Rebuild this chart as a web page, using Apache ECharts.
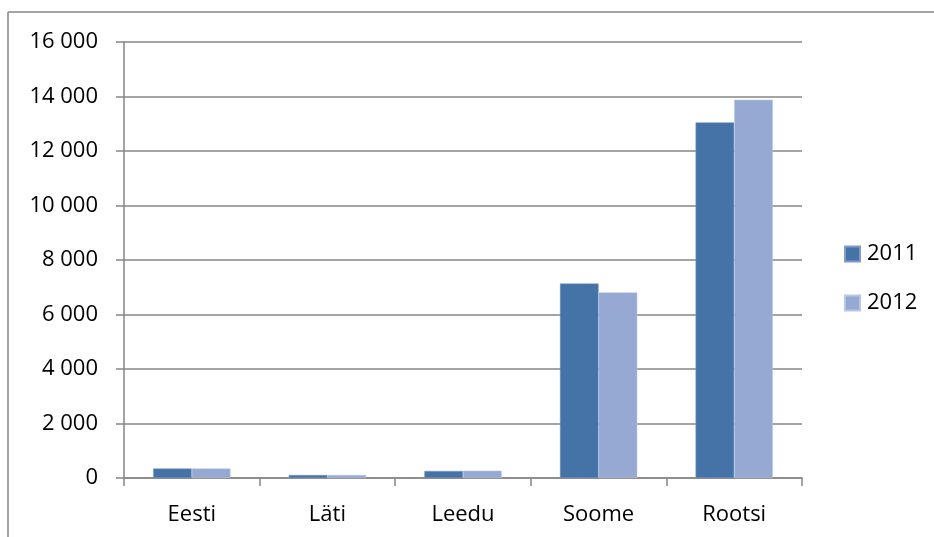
<!DOCTYPE html>
<html><head><meta charset="utf-8">
<script src="https://cdn.jsdelivr.net/npm/echarts@6/dist/echarts.min.js"></script>
<style>html,body{margin:0;padding:0;background:#fff}#c{width:934px;height:537px}</style>
</head><body><div id="c"></div>
<script>
const categories = ['Eesti', 'Läti', 'Leedu', 'Soome', 'Rootsi'];
const seriesNames = ['2011', '2012'];
const values2011 = [350, 110, 260, 7140, 13050];
const values2012 = [350, 110, 270, 6810, 13880];

const fmt = v => String(v).replace(/\B(?=(\d{3})+(?!\d))/g, ' ');
const font = 'Open Sans, Noto Sans, sans-serif';
const chart = echarts.init(document.getElementById('c'));
chart.setOption({
  animation: false,
  graphic: [
    {type: 'line', shape: {x1: 8, y1: 12, x2: 934, y2: 12}, style: {stroke: '#868686', lineWidth: 1.5}},
    {type: 'line', shape: {x1: 8, y1: 12, x2: 8, y2: 537}, style: {stroke: '#868686', lineWidth: 1.5}}
  ],
  grid: {left: 124, right: 132, top: 42, bottom: 59},
  legend: {
    orient: 'vertical', left: 844, top: 243, padding: 0, itemWidth: 15, itemHeight: 15, itemGap: 27,
    icon: 'rect',
    textStyle: {fontSize: 22, fontFamily: font, color: '#000', padding: [0,0,0,2]},
    data: seriesNames
  },
  xAxis: {
    type: 'category', data: categories,
    axisLine: {lineStyle: {color: '#868686', width: 1.5}},
    axisTick: {show: true, length: 8, lineStyle: {color: '#868686', width: 1.5}},
    axisLabel: {fontSize: 22, fontFamily: font, color: '#000', margin: 26}
  },
  yAxis: {
    type: 'value', min: 0, max: 16000, interval: 2000,
    axisLine: {show: true, lineStyle: {color: '#868686', width: 1.5}},
    axisTick: {show: true, inside: false, length: 8, lineStyle: {color: '#868686', width: 1.5}},
    splitLine: {lineStyle: {color: '#868686', width: 1.5}},
    axisLabel: {fontSize: 22, fontFamily: font, color: '#000', margin: 26, formatter: fmt}
  },
  series: [
    {name: seriesNames[0], type: 'bar', data: values2011, barGap: '0%', barCategoryGap: '43%',
     itemStyle: {color: '#4572A7', borderColor: '#7f9cc6', borderWidth: 0.5}},
    {name: seriesNames[1], type: 'bar', data: values2012,
     itemStyle: {color: '#95A9D3', borderColor: '#b8c8e4', borderWidth: 0.5}}
  ]
});
</script></body></html>
